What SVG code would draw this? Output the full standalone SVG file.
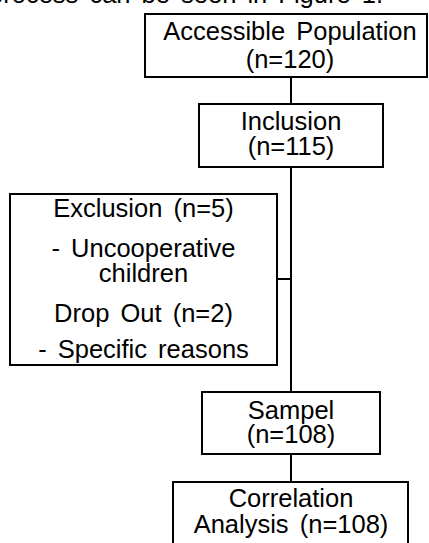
<svg xmlns="http://www.w3.org/2000/svg" width="429" height="543" viewBox="0 0 429 543">
<style>
.box{fill:#ffffff;stroke:#000000;stroke-width:2}
.t{font-family:"Liberation Sans",Arial,sans-serif;font-size:25.5px;fill:#000000;text-anchor:middle;word-spacing:4px}
.c{stroke:#000000;stroke-width:2;fill:none}
</style>
<rect width="429" height="543" fill="#ffffff"/>
<text class="t" x="383" y="3" style="text-anchor:end">process can be seen in Figure 1.</text>
<g id="connectors">
<line class="c" x1="291" y1="77" x2="291" y2="104"/>
<line class="c" x1="291" y1="167" x2="291" y2="392"/>
<line class="c" x1="277" y1="279" x2="291" y2="279"/>
<line class="c" x1="291" y1="454" x2="291" y2="482"/>
</g>
<g id="accessible">
<rect class="box" x="145" y="14" width="282" height="63"/>
<text class="t" x="290" y="39.5">Accessible Population</text>
<text class="t" x="290" y="68">(n=120)</text>
</g>
<g id="inclusion">
<rect class="box" x="199" y="104" width="184" height="63"/>
<text class="t" x="291" y="129.5">Inclusion</text>
<text class="t" x="291" y="155">(n=115)</text>
</g>
<g id="exclusion">
<rect class="box" x="10" y="194" width="267" height="171"/>
<text class="t" x="143.5" y="216.5">Exclusion (n=5)</text>
<text class="t" x="143.5" y="256.5">- Uncooperative</text>
<text class="t" x="143.5" y="281.5">children</text>
<text class="t" x="143.5" y="321.5">Drop Out (n=2)</text>
<text class="t" x="143.5" y="358">- Specific reasons</text>
</g>
<g id="sampel">
<rect class="box" x="202" y="392" width="178" height="62"/>
<text class="t" x="291" y="418.5">Sampel</text>
<text class="t" x="291" y="442.5">(n=108)</text>
</g>
<g id="correlation">
<rect class="box" x="173" y="482" width="235" height="70"/>
<text class="t" x="291" y="507">Correlation</text>
<text class="t" x="291" y="533">Analysis (n=108)</text>
</g>
</svg>
